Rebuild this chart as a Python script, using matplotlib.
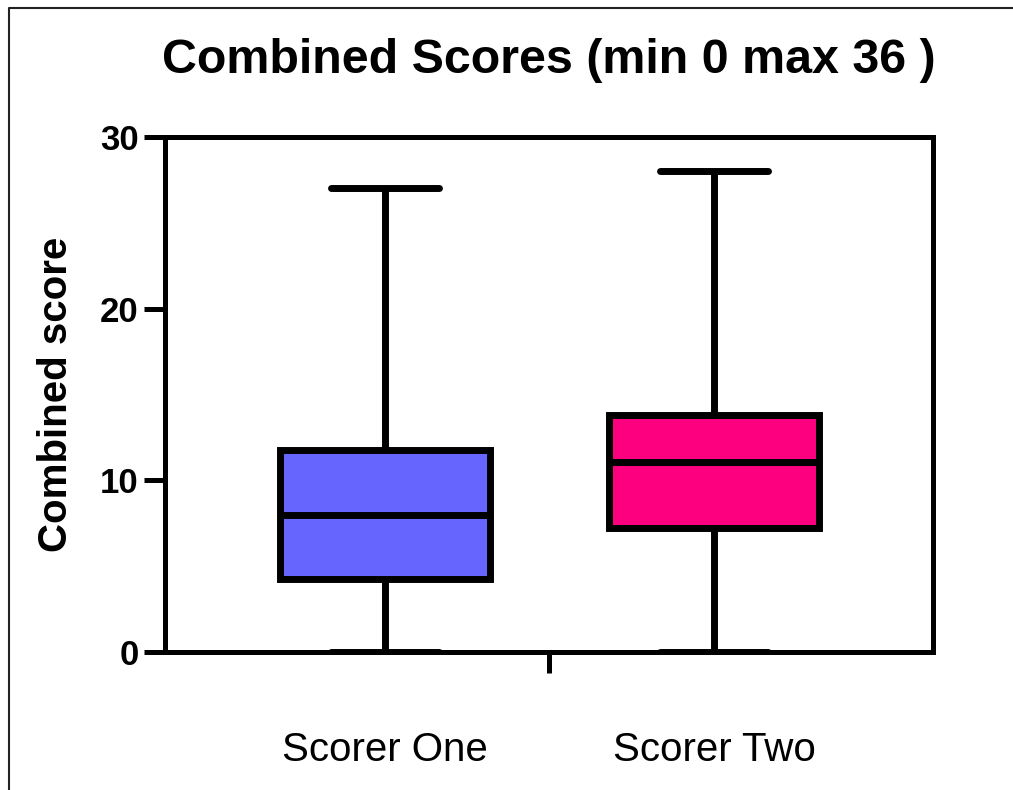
import matplotlib
matplotlib.use("Agg")
import matplotlib.pyplot as plt
from matplotlib.lines import Line2D

plt.rcParams['font.family'] = ['Liberation Sans', 'DejaVu Sans']

# box statistics
groups = ['Scorer One', 'Scorer Two']
whislo = [0, 0]
q1 = [4.25, 7.2]
median = [8.0, 11.05]
q3 = [11.75, 13.8]
whishi = [27, 28]
colors = ['#6666ff', '#fc0080']

stats = []
for i in range(len(groups)):
    stats.append({'label': groups[i], 'whislo': whislo[i], 'q1': q1[i],
                  'med': median[i], 'q3': q3[i], 'whishi': whishi[i]})

fig = plt.figure(figsize=(10.13, 7.90), dpi=100)
ax = fig.add_axes([165 / 1013, 1 - 652 / 790, (933 - 165) / 1013, (652 - 137) / 790])

lw = 5
bp = ax.bxp(stats, positions=[1, 2], widths=0.64, capwidths=0.33,
            showfliers=False, patch_artist=True,
            boxprops=dict(linewidth=lw, edgecolor='black'),
            whiskerprops=dict(linewidth=lw, color='black', solid_capstyle='butt'),
            capprops=dict(linewidth=lw, color='black', solid_capstyle='round'),
            medianprops=dict(linewidth=lw, color='black', solid_capstyle='butt'))
for patch, c in zip(bp['boxes'], colors):
    patch.set_facecolor(c)

ax.set_xlim(0.331, 2.666)
ax.set_ylim(0, 30)
ax.set_yticks([0, 10, 20, 30])

# one tick mark between groups, labels underneath without marks
ax.set_xticks([1.5])
ax.set_xticklabels([''])
ax.set_xticks([1, 2], minor=True)
ax.set_xticklabels(groups, minor=True, fontsize=29)
ax.tick_params(axis='x', which='minor', length=0, pad=57)
ax.tick_params(axis='x', which='major', length=15, width=3.6, direction='out')
ax.tick_params(axis='y', length=15, width=3.6, pad=4, labelsize=25)
for lab in ax.get_yticklabels():
    lab.set_fontweight('bold')

for s in ax.spines.values():
    s.set_linewidth(3.6)

ax.set_ylabel('Combined score', fontsize=29, fontweight='bold', labelpad=18)
ax.set_title('Combined Scores (min 0 max 36 )', fontsize=34.8, fontweight='bold', pad=46)

# thin outer frame on left and top
fig.add_artist(Line2D([8.5 / 1013, 8.5 / 1013, 1], [0, 1 - 7.5 / 790, 1 - 7.5 / 790],
                      transform=fig.transFigure, color='#222222', linewidth=1.5))

fig.savefig('out.png', dpi=100)
